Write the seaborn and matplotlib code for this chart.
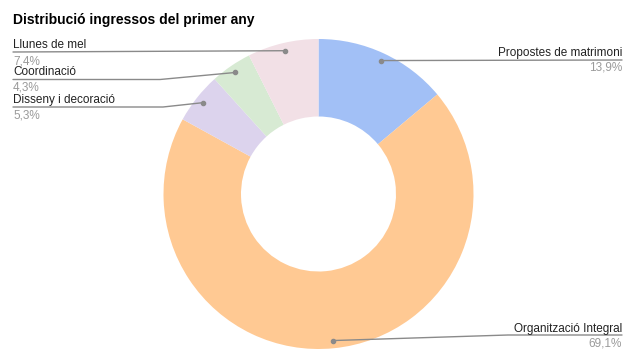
import numpy as np
import seaborn as sns
import matplotlib.pyplot as plt
from matplotlib.lines import Line2D

# data
labels = ["Propostes de matrimoni", "Organització Integral", "Disseny i decoració",
          "Coordinació", "Llunes de mel"]
values = [13.9, 69.1, 5.3, 4.3, 7.4]
pct_labels = ["13,9%", "69,1%", "5,3%", "4,3%", "7,4%"]
colors = ["#a2c0f6", "#ffc993", "#dcd3ed", "#d7ead3", "#f2e0e6"]

sns.set_theme(style="white")
plt.rcParams["font.family"] = ["Liberation Sans", "DejaVu Sans"]

W, H = 626, 349
fig = plt.figure(figsize=(W / 100, H / 100), dpi=100)
fig.patch.set_facecolor("white")


def fx(x):
    return x / W


def fy(y):
    return 1 - y / H


# donut: centre (318.5, 194), radius 155 px
ax = fig.add_axes([fx(163.5), 0, 310 / W, 310 / H])
wedges, _ = ax.pie(values, colors=sns.color_palette(colors), startangle=90,
                   counterclock=False, radius=1,
                   wedgeprops=dict(width=0.5, edgecolor="none"))
ax.set_xlim(-1, 1)
ax.set_ylim(-1, 1)
ax.set_aspect("equal")
ax.axis("off")

fig.text(fx(13), fy(20), "Distribució ingressos del primer any", fontsize=10,
         fontweight="bold", color="#000000", ha="left", va="center")

# label layout in pixels: (text x, name y, pct y, line y, elbow x, side)
layout = {
    "Propostes de matrimoni": (622, 53, 68, 60, None, "right"),
    "Organització Integral": (622, 329, 344, 335, 508, "right"),
    "Disseny i decoració": (13, 100, 115, 107, 163, "left"),
    "Coordinació": (13, 72, 87, 79.5, 160, "left"),
    "Llunes de mel": (13, 45, 61, 52, None, "left"),
}

fig.canvas.draw()
inv = fig.transFigure.inverted()
for w, lab, pct in zip(wedges, labels, pct_labels):
    tx, ny, py, ly, ex, side = layout[lab]
    mid = np.deg2rad((w.theta1 + w.theta2) / 2)
    r = 0.95
    dx, dy = inv.transform(ax.transData.transform((r * np.cos(mid), r * np.sin(mid))))
    ha = "left" if side == "left" else "right"
    fig.text(fx(tx), fy(ny), lab, fontsize=8.5, color="#222222", ha=ha, va="center")
    fig.text(fx(tx), fy(py), pct, fontsize=8.5, color="#9a9a9a", ha=ha, va="center")
    if ex is None:
        xs = [fx(tx), dx]
        ys = [fy(ly), dy]
    else:
        xs = [fx(tx), fx(ex), dx]
        ys = [fy(ly), fy(ly), dy]
    fig.add_artist(Line2D(xs, ys, transform=fig.transFigure, color="#8a8a8a", lw=1))
    fig.add_artist(Line2D([dx], [dy], transform=fig.transFigure, color="#8a8a8a",
                          marker="o", markersize=3, lw=0))

fig.savefig("out.png", dpi=100, facecolor="white")
